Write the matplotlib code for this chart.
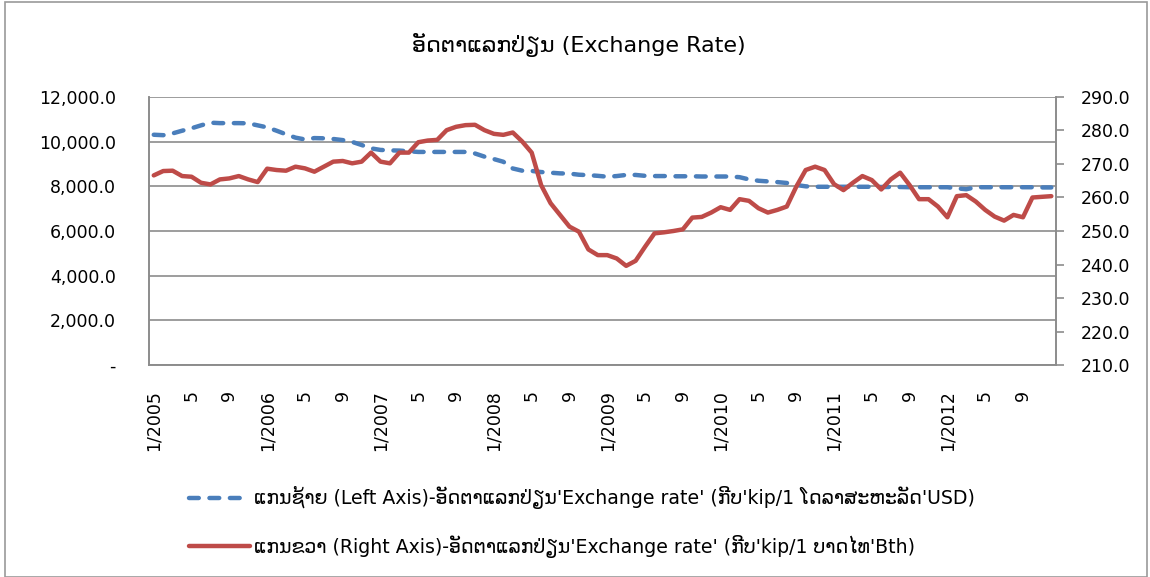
import matplotlib
matplotlib.use("Agg")
import matplotlib.pyplot as plt
from matplotlib.patches import Rectangle
import numpy as np

plt.rcParams['font.family'] = ['DejaVu Sans']

title = "ອັດຕາແລກປ່ຽນ (Exchange Rate)"
label_usd = "ແກນຊ້າຍ (Left Axis)-ອັດຕາແລກປ່ຽນ'Exchange rate' (ກີບ'kip/1 ໂດລາສະຫະລັດ'USD)"
label_thb = "ແກນຂວາ (Right Axis)-ອັດຕາແລກປ່ຽນ'Exchange rate' (ກີບ'kip/1 ບາດໄທ'Bth)"

years = [2005, 2006, 2007, 2008, 2009, 2010, 2011, 2012]

usd = [10310, 10290, 10370, 10490, 10600, 10730, 10850, 10830, 10830, 10830, 10820, 10730,
       10640, 10490, 10330, 10180, 10100, 10160, 10150, 10120, 10070, 9990, 9850, 9700,
       9630, 9610, 9600, 9570, 9540, 9540, 9540, 9540, 9540, 9540, 9470, 9330,
       9220, 9100, 8800, 8700, 8690, 8640, 8610, 8580, 8570, 8520, 8500, 8470,
       8430, 8460, 8510, 8510, 8470, 8460, 8460, 8450, 8450, 8450, 8440, 8440,
       8440, 8440, 8410, 8310, 8250, 8220, 8190, 8150, 8060, 8000, 7980, 7980,
       7980, 7980, 7980, 7980, 7980, 7970, 7970, 7970, 7960, 7960, 7960, 7960,
       7960, 7910, 7870, 7960, 7960, 7960, 7960, 7960, 7960, 7960, 7950, 7950]

thb = [266.6, 267.9, 268.0, 266.4, 266.2, 264.4, 263.9, 265.4, 265.7, 266.4, 265.4, 264.6,
       268.6, 268.2, 268.0, 269.2, 268.7, 267.7, 269.2, 270.7, 270.9, 270.2, 270.7, 273.4,
       270.7, 270.2, 273.4, 273.4, 276.5, 277.0, 277.2, 280.1, 281.1, 281.6, 281.7, 280.1,
       279.0, 278.7, 279.4, 276.7, 273.4, 263.7, 258.3, 254.8, 251.3, 249.8, 244.5, 242.8,
       242.8, 241.8, 239.6, 241.1, 245.3, 249.3, 249.6, 250.0, 250.5, 254.0, 254.2, 255.5,
       257.1, 256.3, 259.5, 259.0, 256.8, 255.5, 256.3, 257.3, 263.2, 268.2, 269.2, 268.2,
       264.0, 262.2, 264.4, 266.4, 265.2, 262.4, 265.4, 267.4, 263.7, 259.5, 259.5, 257.3,
       254.1, 260.4, 260.7, 258.8, 256.3, 254.3, 253.1, 254.8, 254.1, 260.0, 260.2, 260.4]

left_ticks = [0, 2000, 4000, 6000, 8000, 10000, 12000]
right_ticks = [210, 220, 230, 240, 250, 260, 270, 280, 290]

n = len(usd)
x = np.arange(n)
tick_pos = [i for i in range(n) if i % 4 == 0]
tick_lab = []
for i in tick_pos:
    m = i % 12 + 1
    if m == 1:
        tick_lab.append(f"1/{years[i // 12]}")
    else:
        tick_lab.append(str(m))

fig = plt.figure(figsize=(11.5, 5.77), dpi=100)
fig.patches.append(Rectangle((0.004, 0.0), 0.993, 0.997, transform=fig.transFigure,
                             fill=False, edgecolor='#9a9a9a', linewidth=1.2))

ax = fig.add_axes([0.1296, 0.3674, 0.7887, 0.4645])
ax2 = ax.twinx()

blue = '#4a7ebb'
red = '#be4b48'
grey = '#8c8c8c'

l1, = ax.plot(x, usd, color=blue, linewidth=3.2, linestyle=(0, (2.2, 2.4)), dash_capstyle='round')
l2, = ax2.plot(x, thb, color=red, linewidth=3.2, solid_capstyle='round')

ax.set_xlim(-0.5, n - 0.5)
ax.set_ylim(0, 12000)
ax2.set_ylim(210, 290)
ax.set_yticks(left_ticks)
ax.set_yticklabels(['-' if v == 0 else f"{v:,.1f}" for v in left_ticks], fontsize=12.5)
ax2.set_yticks(right_ticks)
ax2.set_yticklabels([f"{v:.1f}" for v in right_ticks], fontsize=12.5)
ax.set_xticks(tick_pos)
ax.set_xticklabels(tick_lab, rotation=90, fontsize=12.5)

ax.grid(axis='y', color=grey, linewidth=1.2)
ax.set_axisbelow(True)
ax.spines['top'].set_visible(False)
ax2.spines['top'].set_visible(False)
for a in (ax, ax2):
    for s in ['left', 'bottom', 'right']:
        a.spines[s].set_color(grey)
        a.spines[s].set_linewidth(1.2)
ax.tick_params(axis='y', length=0, pad=24)
ax.tick_params(axis='x', length=0, pad=18)
ax2.tick_params(axis='y', which='both', right=True, labelright=True,
                length=6, width=1.2, color=grey, direction='out', pad=12)

fig.text(0.503, 0.922, title, ha='center', va='center', fontsize=16)

fig.legend([l1, l2], [label_usd, label_thb], loc='upper left', bbox_to_anchor=(0.158, 0.17),
           frameon=False, fontsize=13.6, handlelength=3.2, handletextpad=0.25,
           labelspacing=1.35, borderaxespad=0)

fig.savefig('out.png', dpi=100)
